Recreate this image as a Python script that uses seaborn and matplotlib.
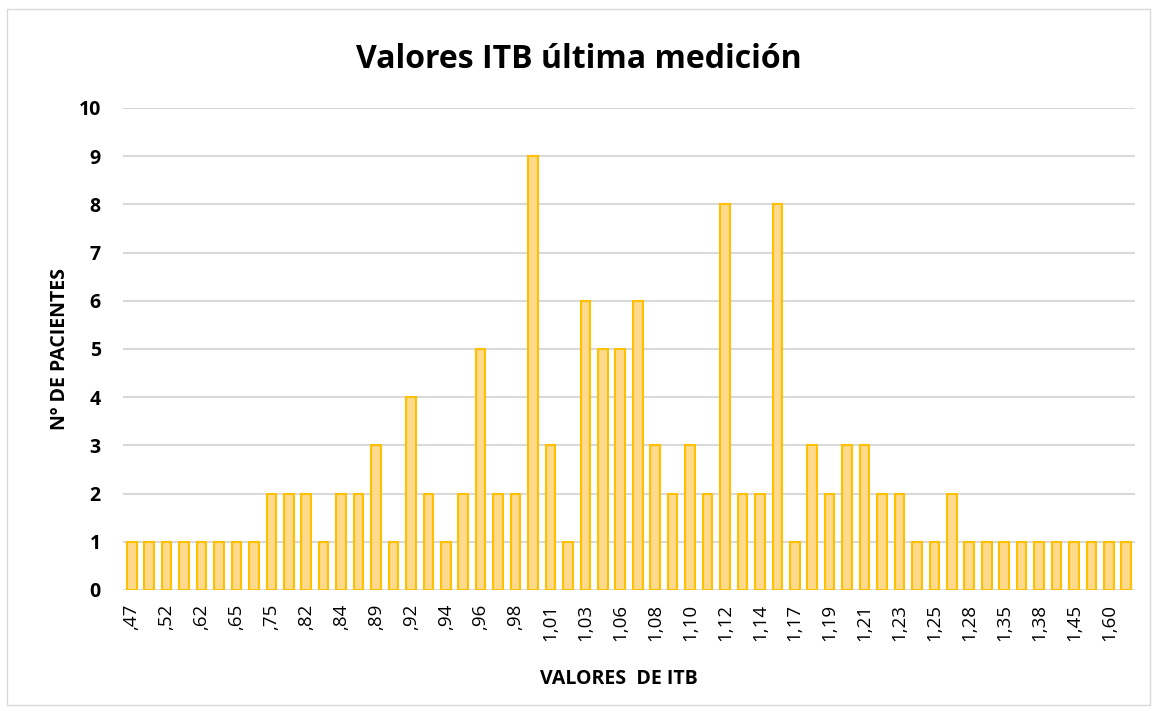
import matplotlib
matplotlib.use("Agg")
import matplotlib.pyplot as plt
import matplotlib.patches as mpatches
import seaborn as sns
import pandas as pd

# ITB values (every other label is hidden on the axis, as in the original)
valores = [",47", ",49", ",52", ",58", ",62", ",64", ",65", ",70", ",75", ",79",
           ",82", ",83", ",84", ",86", ",89", ",91", ",92", ",93", ",94", ",95",
           ",96", ",97", ",98", ",99", "1,01", "1,02", "1,03", "1,04", "1,06", "1,07",
           "1,08", "1,09", "1,10", "1,11", "1,12", "1,13", "1,14", "1,15", "1,17", "1,18",
           "1,19", "1,20", "1,21", "1,22", "1,23", "1,24", "1,25", "1,26", "1,28", "1,31",
           "1,35", "1,36", "1,38", "1,42", "1,45", "1,50", "1,60", "1,65"]
pacientes = [1, 1, 1, 1, 1, 1, 1, 1, 2, 2,
             2, 1, 2, 2, 3, 1, 4, 2, 1, 2,
             5, 2, 2, 9, 3, 1, 6, 5, 5, 6,
             3, 2, 3, 2, 8, 2, 2, 8, 1, 3,
             2, 3, 3, 2, 2, 1, 1, 2, 1, 1,
             1, 1, 1, 1, 1, 1, 1, 1]

df = pd.DataFrame({"itb": valores, "n": pacientes})

sns.set_theme(style="white")
plt.rcParams['font.family'] = ['Open Sans', 'DejaVu Sans']
plt.rcParams['text.color'] = 'black'

fig = plt.figure(figsize=(11.57, 7.11), dpi=100)
ax = fig.add_axes([0.1063, 0.1702, 0.8747, 0.678])

sns.barplot(data=df, x="itb", y="n", order=valores, color="#FFD98C",
            edgecolor="#FFC000", linewidth=1.5, width=0.55, saturation=1, ax=ax)

ax.set_xlim(-0.5, len(valores) - 0.5)
ax.set_ylim(0, 10)
ax.set_yticks(range(0, 11))
ax.set_yticklabels([str(i) for i in range(0, 11)], fontweight="bold", fontsize=14, color="black")
ax.set_xticks(range(0, len(valores), 2))
ax.set_xticklabels(valores[::2], rotation=90, fontsize=13.5, color="black")
ax.tick_params(axis="y", length=0, pad=16)
ax.tick_params(axis="x", length=0, pad=10)
ax.yaxis.grid(True, color="#D9D9D9", linewidth=1.5)
ax.set_axisbelow(True)
for s in ax.spines.values():
    s.set_visible(False)

ax.set_xlabel("VALORES  DE ITB", fontweight="bold", fontsize=14, color="black")
ax.set_ylabel("Nº DE PACIENTES", fontweight="bold", fontsize=14, color="black")
ax.xaxis.set_label_coords(0.49, -0.163)
ax.yaxis.set_label_coords(-0.052, 0.5)
fig.suptitle("Valores ITB última medición", fontweight="bold", fontsize=23, color="black", y=0.94)

fig.patches.append(mpatches.Rectangle((0.006, 0.008), 0.988, 0.98, transform=fig.transFigure,
                                      fill=False, edgecolor="#D9D9D9", linewidth=1))

fig.savefig("out.png", dpi=100)
